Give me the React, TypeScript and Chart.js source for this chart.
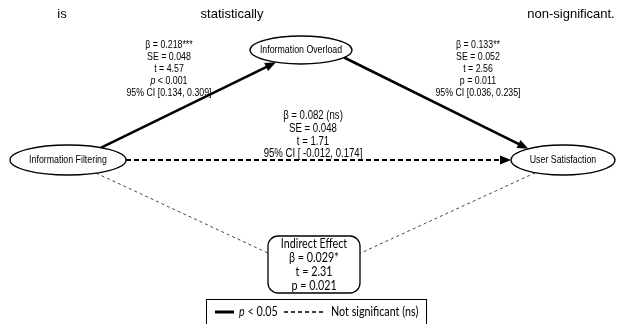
import React, { useEffect, useRef } from "react";
import { Chart, registerables } from "chart.js";

Chart.register(...registerables);

// ---------------- data ----------------
const nodeNames = ["Information Filtering", "Information Overload", "User Satisfaction"];
const pathFrom = [0, 1, 0];
const pathTo = [1, 2, 2];
const pathBeta = ["0.218***", "0.133**", "0.082 (ns)"];
const pathSE = ["0.048", "0.052", "0.048"];
const pathT = ["4.57", "2.56", "1.71"];
const pathPText = ["< 0.001", "= 0.011", ""];
const pathPItalic = [true, false, false];
const pathCI = ["[0.134, 0.309]", "[0.036, 0.235]", "[ -0.012, 0.174]"];
const pathSignificant = [true, true, false];
const indirectTitle = "Indirect Effect";
const indirectBeta = "0.029*";
const indirectT = "2.31";
const indirectP = "0.021";
const legendSigLabel = "< 0.05";
const legendNsLabel = "Not significant (ns)";
const headerWords = ["is", "statistically", "non-significant."];

// ---------------- layout (diagram units) ----------------
const nodeX = [68, 301, 563];
const nodeY = [160, 50, 160];
const nodeRX = [58, 51, 52];
const nodeRY = [15, 14, 15];
const edgeFromOffX = [8, 28, 0];
const edgeToOffY = [0, 6, 0];
const labelX = [169, 478, 313];
const labelY = [45, 45, 116];
const labelSize = [11, 11, 12];
const boxCX = 314;
const boxCY = 264.5;
const boxHW = 46;
const boxHH = 28.5;
const linkTargetOffY = 10;
const headerX = [62, 232, 571];

const NARROW = '"Liberation Sans", Arial, sans-serif';
const NARROW_K = 0.8;
const HUMAN = 'Lato, "Open Sans", sans-serif';
const HUMAN_K = 0.86;
const HEAD = '"Liberation Sans", Arial, sans-serif';

function rayEllipse(i: number, ox: number, oy: number, dx: number, dy: number) {
  const u = (ox - nodeX[i]) / nodeRX[i];
  const v = (oy - nodeY[i]) / nodeRY[i];
  const p = dx / nodeRX[i];
  const q = dy / nodeRY[i];
  const A = p * p + q * q;
  const B = 2 * (u * p + v * q);
  const C = u * u + v * v - 1;
  const t = (-B + Math.sqrt(B * B - 4 * A * C)) / (2 * A);
  return { x: ox + dx * t, y: oy + dy * t };
}
function boxExit(ox: number, oy: number, dx: number, dy: number) {
  const tx = dx > 0 ? (boxCX + boxHW - ox) / dx : (boxCX - boxHW - ox) / dx;
  const ty = dy > 0 ? (boxCY + boxHH - oy) / dy : (boxCY - boxHH - oy) / dy;
  const t = Math.min(Math.abs(tx), Math.abs(ty));
  return { x: ox + dx * t, y: oy + dy * t };
}

const ARROW_LEN = 11;
const ARROW_HALF = 4.5;

type Seg = { text: string; italic?: boolean };

function drawRich(
  ctx: CanvasRenderingContext2D,
  segs: Seg[],
  cx: number,
  cy: number,
  size: number,
  family: string,
  k = 1,
  align: "center" | "left" = "center"
) {
  const fonts = segs.map((s) => `${s.italic ? "italic " : ""}${size}px ${family}`);
  let total = 0;
  const widths = segs.map((s, i) => {
    ctx.font = fonts[i];
    const w = ctx.measureText(s.text).width * k;
    total += w;
    return w;
  });
  let x = align === "center" ? cx - total / 2 : cx;
  ctx.textAlign = "left";
  ctx.textBaseline = "middle";
  segs.forEach((s, i) => {
    ctx.font = fonts[i];
    ctx.save();
    ctx.translate(x, cy);
    ctx.scale(k, 1);
    ctx.fillText(s.text, 0, 0);
    ctx.restore();
    x += widths[i];
  });
}

export default function App() {
  const ref = useRef<HTMLCanvasElement | null>(null);

  useEffect(() => {
    const canvas = ref.current;
    if (!canvas) return;

    const edges = pathFrom.map((f, k) => {
      const t = pathTo[k];
      const ox = nodeX[f] + edgeFromOffX[k];
      const oy = nodeY[f];
      const tx = nodeX[t];
      const ty = nodeY[t] + edgeToOffY[k];
      const dx = tx - ox;
      const dy = ty - oy;
      const a = rayEllipse(f, ox, oy, dx, dy);
      const b = rayEllipse(t, tx, ty, -dx, -dy);
      const len = Math.hypot(b.x - a.x, b.y - a.y);
      const shorten = (ARROW_LEN * 0.8) / len;
      const lineEnd = { x: b.x - (b.x - a.x) * shorten, y: b.y - (b.y - a.y) * shorten };
      return { a, b, lineEnd };
    });
    const indirectLinks = [0, 2].map((n) => {
      const tx = boxCX;
      const ty = boxCY + linkTargetOffY;
      const dx = tx - nodeX[n];
      const dy = ty - nodeY[n];
      return { a: rayEllipse(n, nodeX[n], nodeY[n], dx, dy), b: boxExit(tx, ty, -dx, -dy) };
    });

    const datasets: any[] = [];
    edges.forEach((e, k) => {
      datasets.push({
        label: `${nodeNames[pathFrom[k]]} → ${nodeNames[pathTo[k]]}`,
        data: [e.a, e.lineEnd],
        showLine: true,
        pointRadius: 0,
        borderColor: "#000",
        borderWidth: pathSignificant[k] ? 2.6 : 1.8,
        borderDash: pathSignificant[k] ? [] : [5, 3],
        borderCapStyle: "butt",
      });
    });
    indirectLinks.forEach((l) => {
      datasets.push({
        label: "indirect",
        data: [l.a, l.b],
        showLine: true,
        pointRadius: 0,
        borderColor: "#444",
        borderWidth: 1,
        borderDash: [3, 3],
      });
    });

    const diagramPlugin = {
      id: "diagram",
      afterDatasetsDraw(chart: any) {
        const ctx: CanvasRenderingContext2D = chart.ctx;
        const xs = chart.scales.x;
        const ys = chart.scales.y;
        const px = (v: number) => xs.getPixelForValue(v);
        const py = (v: number) => ys.getPixelForValue(v);
        const sx = Math.abs(px(1) - px(0));
        const sy = Math.abs(py(1) - py(0));
        ctx.save();

        // header text
        ctx.fillStyle = "#000";
        headerWords.forEach((w, i) => drawRich(ctx, [{ text: w }], px(headerX[i]), py(14), 13, HEAD));

        // arrowheads
        edges.forEach((e) => {
          const bx = px(e.b.x), by = py(e.b.y);
          const ax = px(e.a.x), ay = py(e.a.y);
          const ang = Math.atan2(by - ay, bx - ax);
          ctx.beginPath();
          ctx.moveTo(bx, by);
          ctx.lineTo(bx - ARROW_LEN * Math.cos(ang) + ARROW_HALF * Math.sin(ang), by - ARROW_LEN * Math.sin(ang) - ARROW_HALF * Math.cos(ang));
          ctx.lineTo(bx - ARROW_LEN * Math.cos(ang) - ARROW_HALF * Math.sin(ang), by - ARROW_LEN * Math.sin(ang) + ARROW_HALF * Math.cos(ang));
          ctx.closePath();
          ctx.fillStyle = "#000";
          ctx.fill();
        });

        // ellipses
        nodeNames.forEach((name, i) => {
          ctx.beginPath();
          ctx.ellipse(px(nodeX[i]), py(nodeY[i]), nodeRX[i] * sx, nodeRY[i] * sy, 0, 0, Math.PI * 2);
          ctx.fillStyle = "#fff";
          ctx.fill();
          ctx.lineWidth = 1.3;
          ctx.strokeStyle = "#000";
          ctx.stroke();
          ctx.fillStyle = "#000";
          drawRich(ctx, [{ text: name }], px(nodeX[i]), py(nodeY[i]), 11, NARROW, NARROW_K);
        });

        // path labels
        ctx.fillStyle = "#000";
        pathBeta.forEach((b, k) => {
          const lines: Seg[][] = [];
          lines.push([{ text: `β = ${b}` }]);
          lines.push([{ text: `SE = ${pathSE[k]}` }]);
          lines.push([{ text: `t = ${pathT[k]}` }]);
          if (pathPText[k]) lines.push([{ text: "p", italic: pathPItalic[k] }, { text: ` ${pathPText[k]}` }]);
          lines.push([{ text: `95% CI ${pathCI[k]}` }]);
          const step = pathPText[k] ? 12 : 12.6;
          lines.forEach((segs, j) =>
            drawRich(ctx, segs, px(labelX[k]), py(labelY[k] + j * step), labelSize[k], NARROW, NARROW_K)
          );
        });

        // indirect effect box
        const bx0 = px(boxCX - boxHW), by0 = py(boxCY - boxHH);
        const bw = boxHW * 2 * sx, bh = boxHH * 2 * sy;
        ctx.beginPath();
        (ctx as any).roundRect(bx0, by0, bw, bh, 10);
        ctx.fillStyle = "#fff";
        ctx.fill();
        ctx.lineWidth = 1.3;
        ctx.strokeStyle = "#000";
        ctx.stroke();
        ctx.fillStyle = "#000";
        const boxLines = [indirectTitle, `β = ${indirectBeta}`, `t = ${indirectT}`, `p = ${indirectP}`];
        boxLines.forEach((t, j) => drawRich(ctx, [{ text: t }], px(boxCX), py(244 + j * 14), 12.5, HUMAN, HUMAN_K));

        // legend
        ctx.lineWidth = 1;
        ctx.strokeStyle = "#000";
        ctx.strokeRect(px(206) + 0.5, py(299) + 0.5, px(426) - px(206), py(340) - py(299));
        ctx.beginPath();
        ctx.lineWidth = 3;
        ctx.moveTo(px(215), py(312));
        ctx.lineTo(px(234), py(312));
        ctx.stroke();
        ctx.fillStyle = "#000";
        drawRich(ctx, [{ text: "p", italic: true }, { text: ` ${legendSigLabel}` }], px(239), py(312), 12.5, HUMAN, HUMAN_K, "left");
        ctx.beginPath();
        ctx.lineWidth = 1.3;
        ctx.setLineDash([4, 3]);
        ctx.moveTo(px(284), py(312));
        ctx.lineTo(px(324), py(312));
        ctx.stroke();
        ctx.setLineDash([]);
        drawRich(ctx, [{ text: legendNsLabel }], px(331), py(312), 12.5, HUMAN, HUMAN_K, "left");

        ctx.restore();
      },
    };

    const chart = new Chart(canvas, {
      type: "scatter",
      data: { datasets },
      options: {
        animation: false,
        responsive: false,
        devicePixelRatio: 1,
        layout: { padding: 0 },
        plugins: { legend: { display: false }, tooltip: { enabled: false }, title: { display: false } },
        scales: {
          x: { type: "linear", min: 0, max: 618, display: false },
          y: { type: "linear", min: 0, max: 324, reverse: true, display: false },
        },
      },
      plugins: [diagramPlugin],
    });
    return () => chart.destroy();
  }, []);

  return (
    <div style={{ position: "fixed", left: 0, top: 0, width: 618, height: 324, background: "#fff" }}>
      <canvas ref={ref} width={618} height={324} style={{ display: "block", width: 618, height: 324 }} />
    </div>
  );
}
